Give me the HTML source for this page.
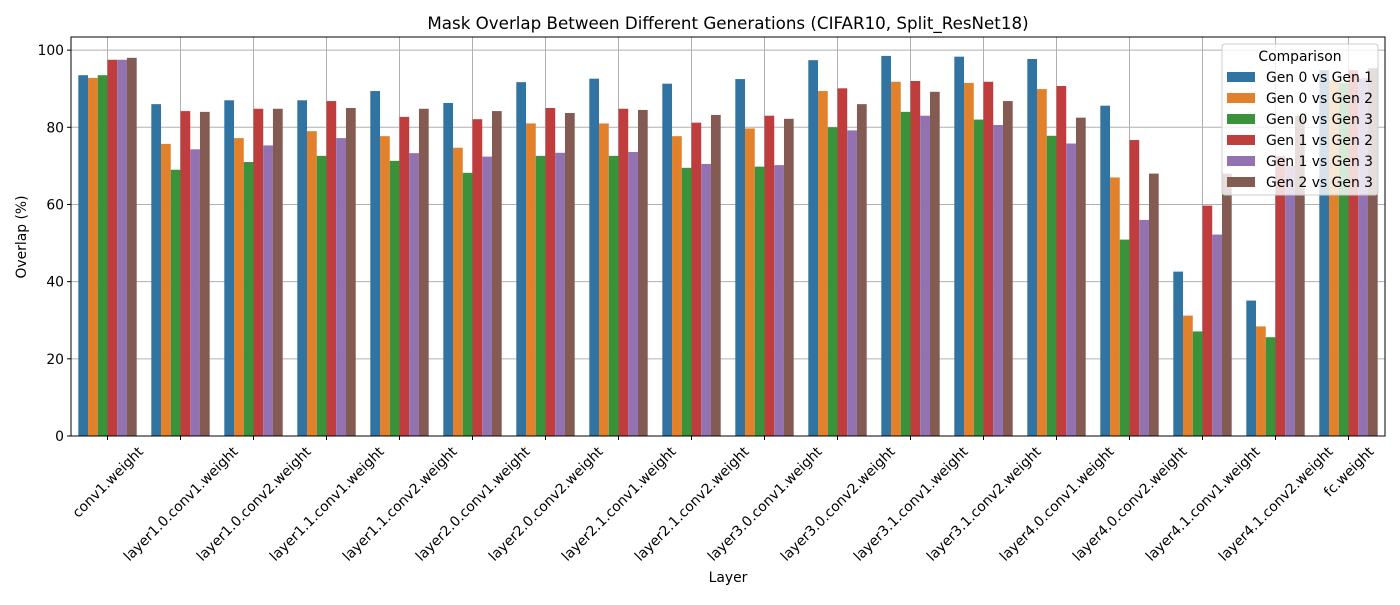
<!DOCTYPE html>
<html><head><meta charset="utf-8"><style>body{margin:0;background:#fff}svg{font-family:"DejaVu Sans","Liberation Sans",sans-serif}</style></head>
<body>
<svg id="c" width="1400" height="600" xmlns="http://www.w3.org/2000/svg"></svg>
<script>
const categories=["conv1.weight","layer1.0.conv1.weight","layer1.0.conv2.weight","layer1.1.conv1.weight","layer1.1.conv2.weight","layer2.0.conv1.weight","layer2.0.conv2.weight","layer2.1.conv1.weight","layer2.1.conv2.weight","layer3.0.conv1.weight","layer3.0.conv2.weight","layer3.1.conv1.weight","layer3.1.conv2.weight","layer4.0.conv1.weight","layer4.0.conv2.weight","layer4.1.conv1.weight","layer4.1.conv2.weight","fc.weight"];
const seriesNames=["Gen 0 vs Gen 1","Gen 0 vs Gen 2","Gen 0 vs Gen 3","Gen 1 vs Gen 2","Gen 1 vs Gen 3","Gen 2 vs Gen 3"];
const gen0v1=[93.5,86,87,87,89.4,86.3,91.7,92.6,91.3,92.5,97.4,98.5,98.3,97.7,85.6,42.6,35.1,94.8];
const gen0v2=[92.8,75.7,77.2,79,77.7,74.7,81,81,77.7,79.7,89.4,91.8,91.5,89.9,67,31.2,28.4,92.2];
const gen0v3=[93.5,69,71,72.6,71.3,68.2,72.6,72.6,69.5,69.8,80,84,82,77.8,50.9,27.1,25.6,91.5];
const gen1v2=[97.5,84.2,84.8,86.8,82.7,82.1,85,84.8,81.2,83,90.1,92,91.8,90.7,76.7,59.7,72.5,94.8];
const gen1v3=[97.5,74.3,75.3,77.2,73.3,72.4,73.4,73.6,70.5,70.2,79.2,83,80.6,75.8,56,52.2,70,92.7];
const gen2v3=[98,84,84.8,85,84.8,84.2,83.7,84.5,83.2,82.2,86,89.2,86.8,82.5,68,68,83,95.3];
const yTicks=[0,20,40,60,80,100];
const series=[gen0v1,gen0v2,gen0v3,gen1v2,gen1v3,gen2v3];
const colors=["#3274a1","#e1812c","#3a923a","#c03d3e","#9372b2","#845b53"];
const L=71,R=1385,T=37,B=436,yMax=103.4;
const svg=document.getElementById('c');const NS="http://www.w3.org/2000/svg";
function el(t,a,p){const e=document.createElementNS(NS,t);for(const k in a)e.setAttribute(k,a[k]);(p||svg).appendChild(e);return e;}
const step=(R-L)/categories.length;
const xC=i=>L+step*(i+0.5);
const y=v=>B-(v/yMax)*(B-T);
const bw=step*0.8/series.length;
const t=el('text',{x:728,y:29,'text-anchor':'middle','font-size':16.7,fill:'#000'});t.textContent="Mask Overlap Between Different Generations (CIFAR10, Split_ResNet18)";


yTicks.forEach(v=>{const g=el('line',{x1:L,x2:R,y1:y(v),y2:y(v),stroke:'#b0b0b0','stroke-width':1});


el('line',{x1:L-4,x2:L,y1:y(v),y2:y(v),stroke:'#000'});
const tx=el('text',{x:L-7,y:y(v)+5,'text-anchor':'end','font-size':13.9});tx.textContent=v;

});
categories.forEach((c,i)=>{const g=el('line',{x1:xC(i),x2:xC(i),y1:T,y2:B,stroke:'#b0b0b0','stroke-width':1});


el('line',{x1:xC(i),x2:xC(i),y1:B,y2:B+4,stroke:'#000'});
const tx=el('text',{x:0,y:5,'text-anchor':'middle','font-size':13.9});tx.textContent=c;


const len=tx.getComputedTextLength();
const h=(len+14)*0.7071;
tx.setAttribute('transform',`translate(${xC(i)},${B+8+h/2}) rotate(-45)`);});
series.forEach((s,k)=>s.forEach((v,i)=>{const r=el('rect',{x:xC(i)-step*0.4+k*bw,y:y(v),width:bw,height:B-y(v),fill:colors[k]});

}));
el('rect',{x:L,y:T,width:R-L,height:B-T,fill:'none',stroke:'#000','stroke-width':1});
const xl=el('text',{x:728,y:582,'text-anchor':'middle','font-size':13.9});xl.textContent="Layer";


const yl=el('text',{x:0,y:0,'text-anchor':'middle','font-size':13.9,transform:`translate(26,237) rotate(-90)`});yl.textContent="Overlap (%)";


const lg=el('g',{});


el('rect',{x:1222,y:44,width:156,height:151,rx:3,fill:'#fff','fill-opacity':0.8,stroke:'#ccc'},lg);
const lt=el('text',{x:1300,y:61,'text-anchor':'middle','font-size':13.9},lg);lt.textContent="Comparison";
seriesNames.forEach((n,k)=>{const yy=77+k*21;
el('rect',{x:1227,y:yy-5,width:28,height:10,fill:colors[k]},lg);
const tx=el('text',{x:1266,y:yy+5,'font-size':13.9},lg);tx.textContent=n;

});
</script>
</body></html>
